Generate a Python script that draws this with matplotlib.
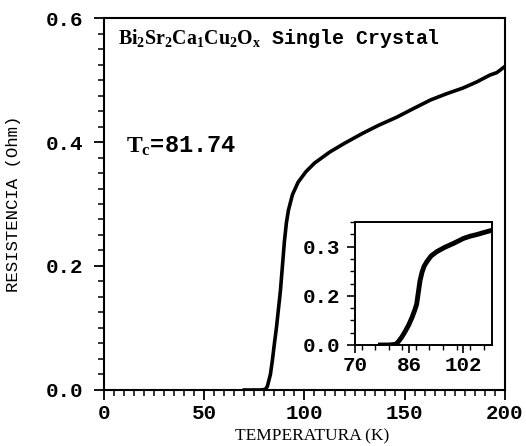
import numpy as np
import matplotlib.pyplot as plt
from matplotlib.ticker import MultipleLocator

# main curve
temp = [70, 78, 80.5, 81.5, 83, 84, 85, 86, 87, 88, 89, 90, 91, 92, 94,
        96.8, 100.7, 105, 112.7, 120, 129, 137, 146, 155, 163, 171, 179,
        186, 192.5, 196, 200]
res = [0, 0, 0.001, 0.006, 0.025, 0.048, 0.075, 0.1, 0.13, 0.16, 0.2,
       0.24, 0.27, 0.29, 0.315, 0.335, 0.352, 0.366, 0.384, 0.398, 0.414,
       0.427, 0.44, 0.455, 0.468, 0.478, 0.487, 0.497, 0.508, 0.512, 0.522]

# inset (zoom of the transition)
temp_in = [77.5, 80, 82, 82.8, 83.8, 84.8, 85.8, 86.8, 87.6, 88.2, 88.7,
           89.2, 89.8, 90.4, 91.2, 92.5, 94.2, 96.5, 99.1, 102, 104, 106,
           108, 110.4]
res_in = [0, 0, 0.002, 0.01, 0.024, 0.041, 0.06, 0.083, 0.105, 0.124,
          0.16, 0.196, 0.222, 0.24, 0.254, 0.272, 0.285, 0.298, 0.31, 0.325,
          0.332, 0.337, 0.343, 0.35]

inset_yticks = [0, 0.15, 0.3]
inset_ylabels = ["0.0", "0.2", "0.3"]
inset_xticks = [70, 86, 102]

plt.rcParams['mathtext.fontset'] = 'custom'
plt.rcParams['mathtext.rm'] = 'Liberation Serif:bold'
plt.rcParams['mathtext.it'] = 'Liberation Serif:bold'
plt.rcParams['mathtext.bf'] = 'Liberation Serif:bold'

tickfont = {'family': 'Liberation Mono', 'weight': 'bold', 'size': 15}

fig = plt.figure(figsize=(5.26, 4.46), dpi=100)
ax = fig.add_axes([0.1977, 0.1256, 0.7623, 0.834])
ax.plot(temp, res, color='black', lw=2.6)
ax.set_xlim(0, 200)
ax.set_ylim(0, 0.6)
ax.xaxis.set_major_locator(MultipleLocator(50))
ax.xaxis.set_minor_locator(MultipleLocator(5))
ax.yaxis.set_minor_locator(MultipleLocator(0.025))
ax.set_yticks([0, 0.2, 0.4, 0.6], ["0.0", "0.2", "0.4", "0.6"])
ax.tick_params(which='major', direction='out', length=7, width=1.3)
ax.tick_params(axis='y', which='major', pad=8)
ax.tick_params(axis='x', which='major', pad=3)
ax.tick_params(which='minor', direction='out', length=4, width=1.1)
for lab in ax.get_xticklabels() + ax.get_yticklabels():
    lab.set(**tickfont)
for s in ax.spines.values():
    s.set_linewidth(1.5)

ax.set_xlabel('TEMPERATURA (K)', family='Liberation Serif', fontsize=12.5,
              va='center')
ax.xaxis.set_label_coords(0.52, -0.124)
ax.set_ylabel('RESISTENCIA (Ohm)', family='Liberation Mono', fontsize=12.5)
ax.yaxis.set_label_coords(-0.207, 0.5)

ax.text(0.035, 0.945, r'$\mathrm{Bi_2Sr_2Ca_1Cu_2O_x}$ Single Crystal',
        transform=ax.transAxes, family='Liberation Mono', fontsize=14.3,
        weight='bold', va='center')
ax.text(0.055, 0.655, r'$\mathrm{T_c}$=81.74', transform=ax.transAxes,
        family='Liberation Mono', fontsize=17, weight='bold', va='center')

# inset
axi = fig.add_axes([0.675, 0.2265, 0.2605, 0.2755])
axi.plot(temp_in, res_in, color='black', lw=3.5)
axi.set_xlim(70, 110.5)
axi.set_ylim(0, 0.375)
axi.set_xticks(inset_xticks)
axi.xaxis.set_minor_locator(MultipleLocator(4))
axi.set_yticks(inset_yticks, inset_ylabels)
axi.yaxis.set_minor_locator(MultipleLocator(0.0375))
axi.tick_params(which='major', direction='out', length=6, width=1.2)
axi.tick_params(axis='y', which='major', pad=5)
axi.tick_params(axis='x', which='major', pad=2)
axi.tick_params(which='minor', direction='out', length=3.5, width=1.0)
for lab in axi.get_xticklabels() + axi.get_yticklabels():
    lab.set(**tickfont)
for s in axi.spines.values():
    s.set_linewidth(1.4)

fig.savefig('out.png', dpi=100)
